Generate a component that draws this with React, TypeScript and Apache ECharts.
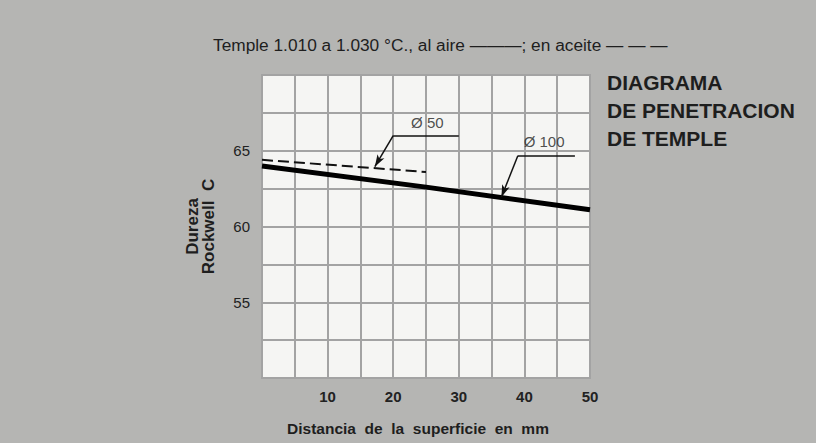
import React, { useEffect, useRef } from "react";
import * as echarts from "echarts";

// Data
const xTicks = [10, 20, 30, 40, 50];
const yTicks = [55, 60, 65];
const dia100Dist = [0, 25, 50];
const dia100Hard = [64.0, 62.6, 61.1];
const dia50Dist = [0, 25];
const dia50Hard = [64.4, 63.6];

// Annotation leaders (data coordinates)
const leader50 = [[20, 66], [30, 66]];
const arrow50 = [[20, 66], [17.2, 63.95]];
const leader100 = [[39, 64.67], [47.7, 64.67]];
const arrow100 = [[39, 64.67], [36.5, 61.95]];
const labelNames = ["Ø 50", "Ø 100"];
const labelPos = [[25.2, 66.85], [43.0, 65.6]];

const titleText = "Temple 1.010 a 1.030 °C., al aire ———; en aceite — — —";
const sideText = "DIAGRAMA\nDE PENETRACION\nDE TEMPLE";

const FONT = "'Liberation Sans', Arial, Helvetica, sans-serif";

export default function App() {
  const ref = useRef<HTMLDivElement>(null);
  useEffect(() => {
    document.body.style.margin = "0";
    const chart = echarts.init(ref.current!, null, { renderer: "svg" });
    const pair = (xs: number[], ys: number[]) => xs.map((x, i) => [x, ys[i]]);
    const seg = (s: number[][], arrow: boolean) => [
      { coord: s[0], symbol: "none" },
      { coord: s[1], symbol: arrow ? "arrow" : "none", symbolSize: [6, 12] },
    ];
    chart.setOption({
      animation: false,
      backgroundColor: "#b5b5b3",
      textStyle: { fontFamily: FONT },
      title: {
        text: titleText,
        left: 213,
        top: 36,
        padding: 0,
        textStyle: { fontSize: 17.3, fontWeight: "normal", color: "#1e1e1e", fontFamily: FONT },
      },
      graphic: [
        {
          type: "text",
          left: 607,
          top: 68,
          style: {
            text: sideText,
            font: `bold 21px ${FONT}`,
            lineHeight: 28,
            fill: "#1e1e1e",
          },
        },
      ],
      grid: {
        left: 262,
        right: 226,
        top: 75,
        bottom: 65,
        show: true,
        backgroundColor: "#f5f5f3",
        borderColor: "#a3a3a3",
        borderWidth: 2,
      },
      xAxis: {
        type: "value",
        min: 0,
        max: 50,
        interval: 5,
        name: "Distancia  de  la  superficie  en  mm",
        nameLocation: "middle",
        nameGap: 42,
        nameTextStyle: {
          fontSize: 15.5,
          fontWeight: "bold",
          color: "#1e1e1e",
          padding: [0, 16, 0, 0],
        },
        axisLine: { show: false },
        axisTick: { show: false },
        axisLabel: {
          margin: 11,
          fontSize: 15,
          color: "#222",
          fontWeight: "bold",
          formatter: (v: number) => (xTicks.includes(v) ? String(v) : ""),
        },
        splitLine: { show: true, lineStyle: { color: "#a3a3a3", width: 2 } },
      },
      yAxis: {
        type: "value",
        min: 50,
        max: 70,
        interval: 2.5,
        name: "Dureza\nRockwell  C",
        nameLocation: "middle",
        nameRotate: 90,
        nameGap: 46,
        nameTextStyle: { fontSize: 17, fontWeight: "bold", color: "#1e1e1e", lineHeight: 16 },
        axisLine: { show: false },
        axisTick: { show: false },
        axisLabel: {
          margin: 12,
          fontSize: 15,
          color: "#222",
          formatter: (v: number) => (yTicks.includes(v) ? String(v) : ""),
        },
        splitLine: { show: true, lineStyle: { color: "#a3a3a3", width: 2 } },
      },
      series: [
        {
          type: "line",
          name: "Ø 100",
          data: pair(dia100Dist, dia100Hard),
          showSymbol: false,
          lineStyle: { color: "#000", width: 5 },
          markLine: {
            silent: true,
            animation: false,
            label: { show: false },
            lineStyle: { color: "#111", width: 1.5, type: "solid" },
            data: [seg(leader100, false), seg(arrow100, true)],
          },
        },
        {
          type: "line",
          name: "Ø 50",
          data: pair(dia50Dist, dia50Hard),
          showSymbol: false,
          lineStyle: { color: "#111", width: 2, type: [11, 5] },
          markLine: {
            silent: true,
            animation: false,
            label: { show: false },
            lineStyle: { color: "#111", width: 1.5, type: "solid" },
            data: [seg(leader50, false), seg(arrow50, true)],
          },
        },
        {
          type: "scatter",
          silent: true,
          symbolSize: 0,
          data: labelNames.map((n, i) => ({ name: n, value: labelPos[i] })),
          label: {
            show: true,
            position: "inside",
            formatter: (p: any) => p.name,
            fontSize: 15,
            color: "#222",
          },
        },
      ],
    });
    return () => chart.dispose();
  }, []);
  return <div ref={ref} style={{ width: 816, height: 443 }} />;
}
